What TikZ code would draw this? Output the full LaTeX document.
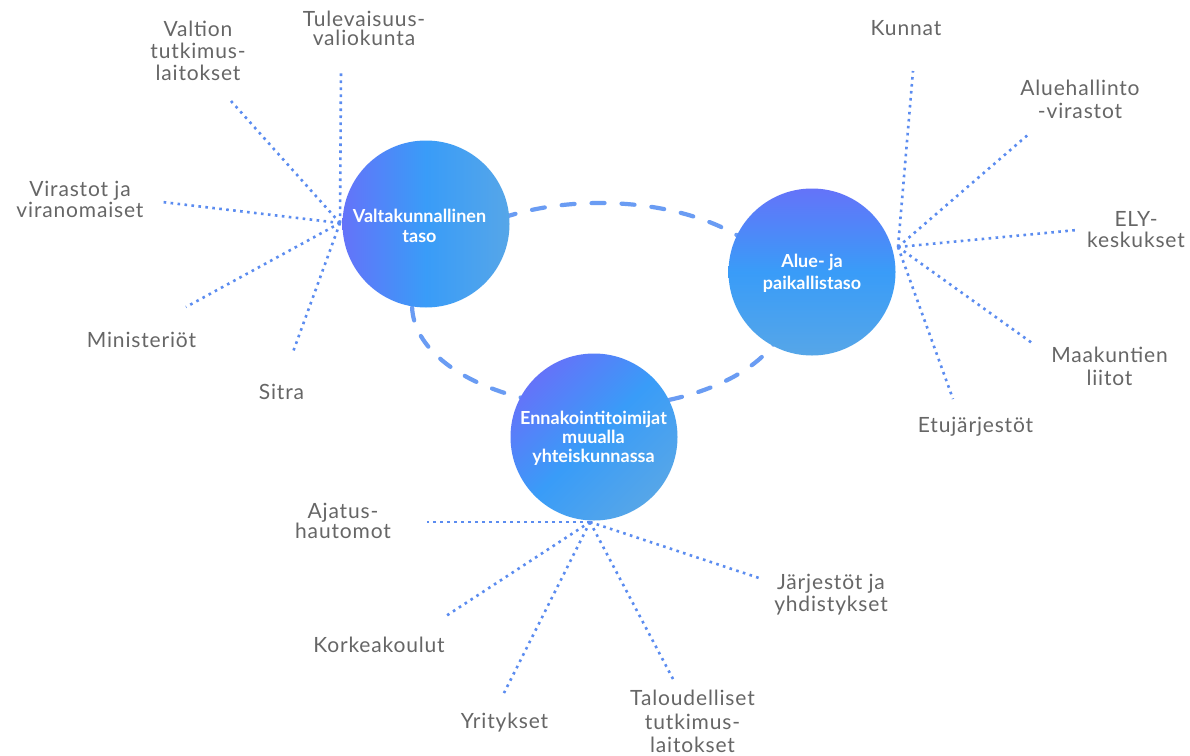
\documentclass[tikz,border=0pt]{standalone}
\usepackage{fontspec}
\setmainfont{Lato}
\newfontfamily\labfont[LetterSpace=4]{Lato}
\definecolor{dotblue}{HTML}{5B8CF0}
\definecolor{ringblue}{HTML}{6A9CF3}
\definecolor{labgray}{HTML}{666666}
\definecolor{cpurple}{HTML}{6473F9}
\definecolor{cmid}{HTML}{399CF8}
\definecolor{cend}{HTML}{56A6E8}
\begin{document}
\begin{tikzpicture}[x=1pt,y=-1pt,
  dotline/.style={draw=dotblue,line width=2.6pt,dash pattern=on 2.6pt off 4.4pt},
  ring/.style={draw=ringblue,line width=4.2pt,dash pattern=on 13pt off 17pt,line cap=round},
  bubble/.style={circle,minimum size=167pt,inner sep=0pt},
  btext/.style={text=white,align=center,inner sep=0pt,anchor=north,
    font=\bfseries\fontsize{18}{20}\selectfont},
  lab/.style={text=labgray,align=center,inner sep=0pt,anchor=north,
    font=\labfont\fontsize{21}{22}\selectfont},
]
\useasboundingbox (0,0) rectangle (1190,755);
\fill[white] (0,0) rectangle (1190,755);

% hubs
\coordinate (h1) at (340,223);
\coordinate (h2) at (898,247);
\coordinate (h3) at (590,522);
% line ends
\coordinate (e11) at (341,70);
\coordinate (e12) at (231,101);
\coordinate (e13) at (162,202);
\coordinate (e14) at (186,307);
\coordinate (e15) at (293,352);
\coordinate (e21) at (913,71);
\coordinate (e22) at (1030,133);
\coordinate (e23) at (1077,230);
\coordinate (e24) at (1032,343);
\coordinate (e25) at (953,399);
\coordinate (e31) at (427,522);
\coordinate (e32) at (446,616);
\coordinate (e33) at (504,693);
\coordinate (e34) at (673,679);
\coordinate (e35) at (759,578);

% dashed ring
\draw[ring] (600,305) ellipse [x radius=188, y radius=102];

% dotted spokes
\foreach \e in {e11,e12,e13,e14,e15} \draw[dotline] (h1) -- (\e);
\foreach \e in {e21,e22,e23,e24,e25} \draw[dotline] (h2) -- (\e);
\foreach \e in {e31,e32,e33,e34,e35} \draw[dotline] (h3) -- (\e);

% bubbles
\node[bubble,left color=cpurple,right color=cend,middle color=cmid] (c1) at (426,224) {};
\node[bubble,top color=cpurple,bottom color=cend,middle color=cmid] (c2) at (812,272) {};
\node[bubble,top color=cpurple,bottom color=cend,middle color=cmid,shading angle=45] (c3) at (594,437) {};

\node[btext] (t1) at (419.5,208.5) {Valtakunnallinen\\taso};
\node[btext,font=\bfseries\fontsize{18}{22}\selectfont] (t2) at (812,254) {Alue- ja\\paikallistaso};
\node[btext,font=\bfseries\fontsize{18}{19}\selectfont] (t3) at (593.5,411) {Ennakointitoimijat\\muualla\\yhteiskunnassa};

% labels
\node[lab,font=\labfont\fontsize{21}{19}\selectfont] (l11) at (364,11) {Tulevaisuus-\\valiokunta};
\node[lab] (l12) at (198,21) {Valtion\\tutkimus-\\laitokset};
\node[lab,font=\labfont\fontsize{21}{21}\selectfont] (l13) at (80,181) {Virastot ja\\viranomaiset};
\node[lab] (l14) at (141.5,332) {Ministeriöt};
\node[lab] (l15) at (281.5,384) {Sitra};

\node[lab] (l21) at (906,20) {Kunnat};
\node[lab,font=\labfont\fontsize{21}{23}\selectfont] (l22) at (1080,80) {Aluehallinto\\-virastot};
\node[lab,font=\labfont\fontsize{21}{21}\selectfont] (l23) at (1136,211) {ELY-\\keskukset};
\node[lab,font=\labfont\fontsize{21}{23}\selectfont] (l24) at (1109.5,347) {Maakuntien\\liitot};
\node[lab] (l25) at (975.5,417) {Etujärjestöt};

\node[lab,font=\labfont\fontsize{21}{19}\selectfont] (l31) at (343,503) {Ajatus-\\hautomot};
\node[lab] (l32) at (379,637) {Korkeakoulut};
\node[lab] (l33) at (504.5,713) {Yritykset};
\node[lab,font=\labfont\fontsize{21}{23.5}\selectfont] (l34) at (692.5,690) {Taloudelliset\\tutkimus-\\laitokset};
\node[lab] (l35) at (831,574) {Järjestöt ja\\yhdistykset};
\end{tikzpicture}
\end{document}
